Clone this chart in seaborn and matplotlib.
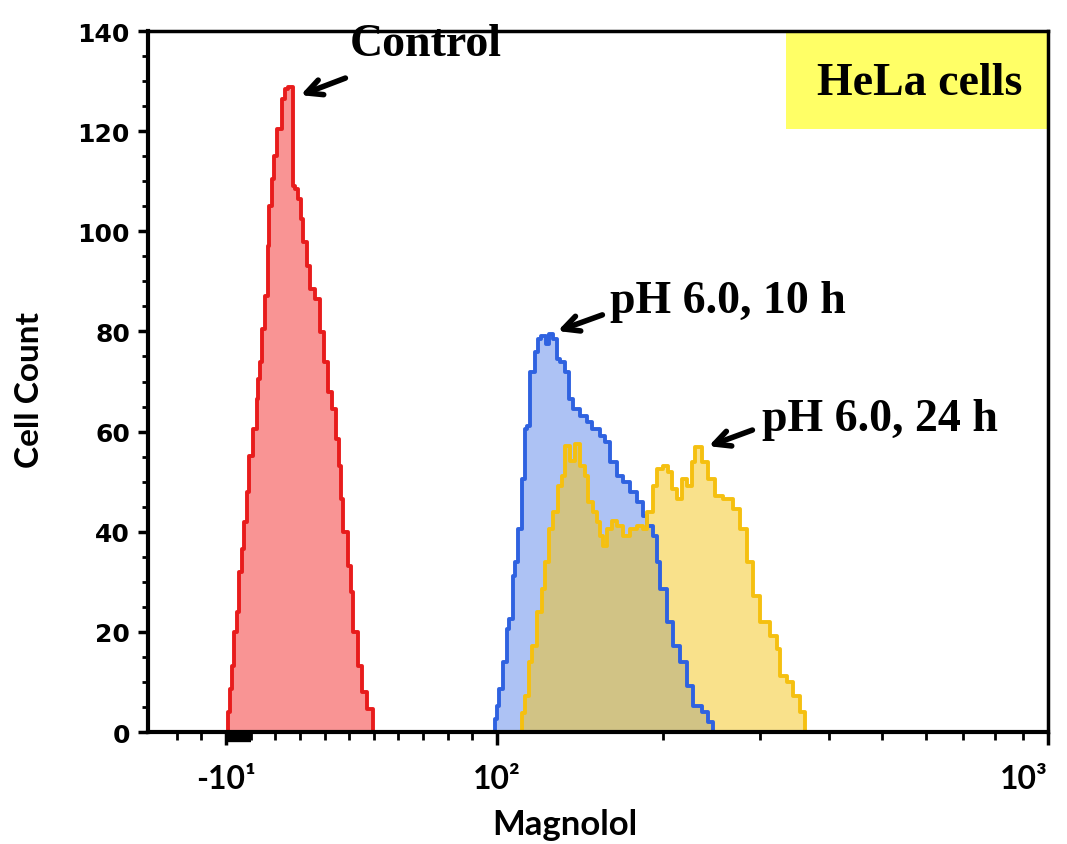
import numpy as np
import seaborn as sns
import matplotlib.pyplot as plt
from matplotlib.patches import Rectangle
from matplotlib.ticker import MultipleLocator

# histogram bins: display-channel edges and cell counts per bin
ctrl_edges = [78, 80, 82, 84, 86, 89, 91, 94, 96, 99, 101, 105, 109, 110, 112, 114,
              117, 120, 121, 124, 126, 129, 134, 137, 140, 145, 147, 150, 153, 155,
              159, 162, 167, 172, 176, 180, 184, 188, 191, 193, 195, 200, 203, 205,
              210, 214, 219, 225, 227]
ctrl_counts = [0, 4.0, 8.6, 13.2, 20.0, 24.0, 32.0, 36.5, 41.9, 47.9, 55.1, 60.5, 66.5,
               70.5, 73.9, 80.5, 87.1, 97.1, 105.1, 110.4, 115.0, 120.4, 126.4, 128.4,
               128.8, 109.0, 108.4, 106.5, 102.5, 97.9, 93.1, 88.5, 86.5, 79.9, 73.9,
               67.9, 64.5, 58.5, 53.1, 46.5, 39.9, 33.2, 28.0, 20.0, 13.2, 8.0, 4.6, 0]

h10_edges = [345, 347, 349, 351, 355, 359, 361, 365, 367, 370, 374, 377, 379, 382, 387,
             390, 393, 398, 401, 405, 409, 412, 417, 421, 425, 432, 439, 444, 452, 457,
             462, 469, 475, 482, 489, 495, 499, 505, 509, 512, 519, 525, 532, 539, 545,
             554, 560, 565, 567]
h10_counts = [0, 2.6, 5.2, 8.6, 14.0, 20.6, 22.6, 31.2, 34.0, 40.5, 50.5, 60.5, 61.1,
              71.9, 75.9, 78.5, 79.1, 77.5, 79.5, 78.5, 74.5, 73.9, 71.9, 66.5, 64.5,
              63.1, 61.9, 60.5, 59.1, 57.9, 53.9, 51.1, 49.9, 47.9, 45.9, 43.1, 41.1,
              39.1, 34.0, 28.6, 22.0, 17.2, 14.0, 9.2, 5.2, 4.0, 2.0, 0]

h24_edges = [372, 374, 377, 381, 384, 389, 394, 397, 401, 405, 410, 414, 417, 422, 427,
             432, 437, 440, 445, 449, 452, 455, 459, 464, 469, 475, 482, 489, 495, 499,
             505, 509, 515, 520, 524, 529, 534, 539, 544, 547, 554, 560, 567, 575, 585,
             592, 599, 605, 612, 622, 629, 632, 639, 645, 652, 657, 659]
h24_counts = [0, 3.8, 7.2, 14.0, 17.2, 24.0, 28.6, 34.0, 40.5, 43.9, 49.1, 51.1, 57.1,
              54.1, 57.5, 53.1, 51.1, 45.9, 43.9, 41.9, 39.1, 37.1, 40.5, 42.1, 41.1,
              39.1, 40.5, 41.1, 40.5, 43.9, 49.1, 52.5, 53.1, 51.9, 48.5, 46.5, 50.5,
              49.1, 53.9, 56.9, 53.9, 50.5, 47.1, 46.5, 44.5, 40.5, 34.0, 27.2, 22.0,
              19.2, 16.6, 11.2, 10.0, 7.2, 4.0, 0]

x_major_values = [-10, 100, 1000]
x_major_labels = ["-10\u00b9", "10\u00b2", "10\u00b3"]
x_minor_values = [-30, -20, 0, 10, 20, 30, 40, 50, 60, 70, 80, 90,
                  200, 300, 400, 500, 600, 700, 800, 900]
y_major = [0, 20, 40, 60, 80, 100, 120, 140]


def chan(v):
    # display scale: linear up to 10^2, log decades above
    v = np.asarray(v, dtype=float)
    lin = 78 + (v + 10) * (349 - 78) / 110
    log = 349 + 551 * np.log10(np.clip(v, 100, None) / 100)
    return np.where(v <= 100, lin, log)


series = [
    (ctrl_edges, ctrl_counts, "#F99494", 1.0, "#E81C1C"),
    (h10_edges, h10_counts, "#3C6EE6", 0.42, "#2F62E0"),
    (h24_edges, h24_counts, "#F5C518", 0.5, "#F5C010"),
]

fig = plt.figure(figsize=(10.67, 8.45), dpi=100)
ax = fig.add_axes([0.1387, 0.1325, 0.8435, 0.8296])

# fills first, outlines on top
for edges, counts, fc, a, lc in series:
    sns.histplot(x=edges[:-1], weights=counts, bins=edges, element="step",
                 fill=True, color=fc, alpha=a, linewidth=0, ax=ax)
for edges, counts, fc, a, lc in series:
    sns.histplot(x=edges[:-1], weights=counts, bins=edges, element="step",
                 fill=False, color=lc, linewidth=2.8, ax=ax)

ax.set_xlim(0, 900)
ax.set_ylim(0, 140)
ax.set_xlabel("")
ax.set_ylabel("")

ax.set_yticks(y_major)
ax.yaxis.set_minor_locator(MultipleLocator(5))
ax.set_xticks(chan(x_major_values))
ax.set_xticklabels(x_major_labels)
ax.set_xticks(chan(x_minor_values), minor=True)

for s in ["left", "bottom"]:
    ax.spines[s].set_linewidth(3)
for s in ["top", "right"]:
    ax.spines[s].set_linewidth(2.5)

ax.tick_params(axis="y", which="major", direction="out", length=7, width=2.5, pad=6)
ax.tick_params(axis="y", which="minor", direction="out", length=4.5, width=2)
ax.tick_params(axis="x", which="major", direction="out", length=9, width=2.5, pad=14)
ax.tick_params(axis="x", which="minor", direction="out", length=5.5, width=2)
for lab in ax.get_yticklabels():
    lab.set_fontfamily("DejaVu Sans")
    lab.set_fontweight("bold")
    lab.set_fontsize(18)
for lab in ax.get_xticklabels():
    lab.set_fontfamily("Lato")
    lab.set_fontweight("bold")
    lab.set_fontsize(23)
# keep the last decade label inside the figure
ax.get_xticklabels()[-1].set_horizontalalignment("right")

# dark smudge under the axis near -10^1
ax.plot([chan(-10), chan(0)], [-1.1, -1.1], color="black", lw=6,
        solid_capstyle="butt", clip_on=False, zorder=5)

fig.text(565 / 1067, 1 - 825 / 845, "Magnolol", ha="center", va="center",
         fontsize=25, family="Lato", fontweight="bold")
fig.text(30 / 1067, 1 - 390 / 845, "Cell Count", ha="center", va="center",
         rotation=90, fontsize=24, family="Lato", fontweight="bold")

ax.add_patch(Rectangle((638, 120.4), 262, 19.6, facecolor="#FFFF66",
                       edgecolor="none", zorder=0.5))
serif = dict(family="Liberation Serif", fontweight="bold", fontsize=33)
ax.text(772, 129.6, "HeLa cells", ha="center", va="center", **serif)

arrow = dict(arrowstyle="->", color="black", lw=4, mutation_scale=28)
notes = [("Control", (150, 127.0), (200, 130.8), (202, 137.4)),
         ("pH 6.0, 10 h", (407, 79.9), (457, 83.5), (462, 86.1)),
         ("pH 6.0, 24 h", (558, 56.9), (607, 60.5), (614, 62.5))]
for txt, head, tail, pos in notes:
    ax.annotate("", xy=head, xytext=tail, arrowprops=arrow)
    ax.text(pos[0], pos[1], txt, ha="left", va="center", **serif)

plt.savefig("out.png", dpi=100)
